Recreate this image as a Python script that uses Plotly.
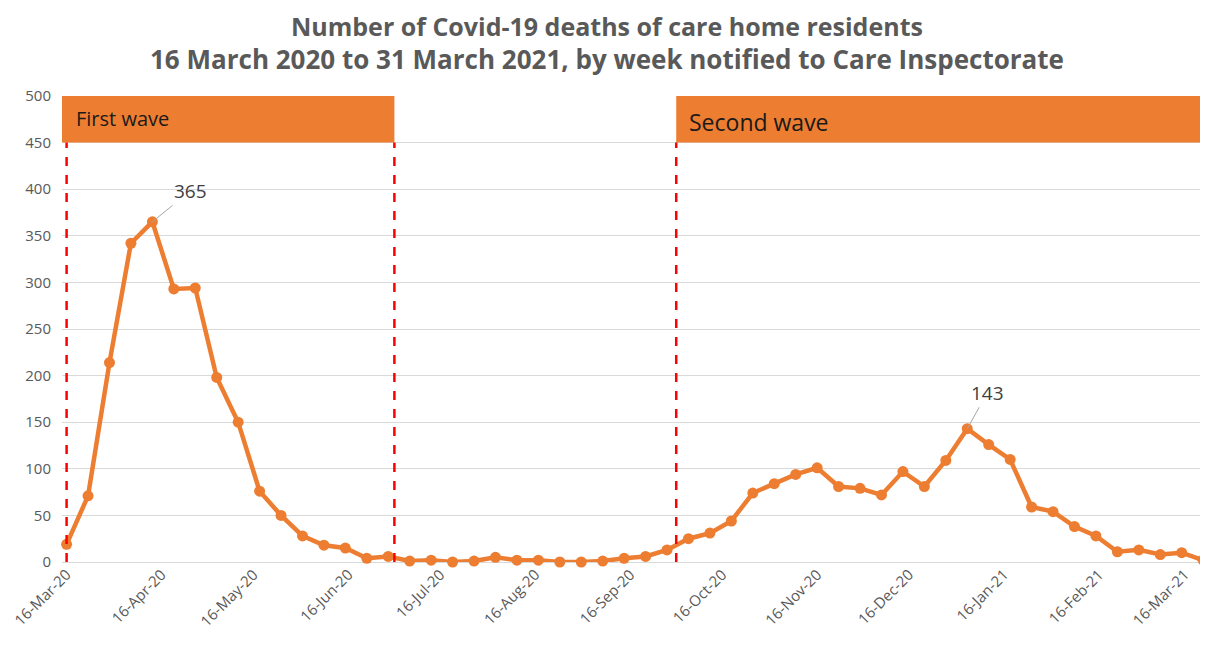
import plotly.graph_objects as go

# ───────────────────────── DATA ─────────────────────────

week_dates = [
    "2020-03-16", "2020-03-23", "2020-03-30", "2020-04-06", "2020-04-13", "2020-04-20",
    "2020-04-27", "2020-05-04", "2020-05-11", "2020-05-18", "2020-05-25", "2020-06-01",
    "2020-06-08", "2020-06-15", "2020-06-22", "2020-06-29", "2020-07-06", "2020-07-13",
    "2020-07-20", "2020-07-27", "2020-08-03", "2020-08-10", "2020-08-17", "2020-08-24",
    "2020-08-31", "2020-09-07", "2020-09-14", "2020-09-21", "2020-09-28", "2020-10-05",
    "2020-10-12", "2020-10-19", "2020-10-26", "2020-11-02", "2020-11-09", "2020-11-16",
    "2020-11-23", "2020-11-30", "2020-12-07", "2020-12-14", "2020-12-21", "2020-12-28",
    "2021-01-04", "2021-01-11", "2021-01-18", "2021-01-25", "2021-02-01", "2021-02-08",
    "2021-02-15", "2021-02-22", "2021-03-01", "2021-03-08", "2021-03-15", "2021-03-22",
]

deaths = [
    19, 71, 214, 342, 365, 293, 294, 198, 150, 76, 50, 28, 18, 15, 4, 6,
    1, 2, 0, 1, 5, 2, 2, 0, 0, 1, 4, 6, 13, 25,
    31, 44, 74, 84, 94, 101, 81, 79, 72, 97, 81, 109, 143, 126, 110,
    59, 54, 38, 28, 11, 13, 8, 10, 2,
]

tick_dates = [
    "2020-03-16", "2020-04-16", "2020-05-16", "2020-06-16", "2020-07-16", "2020-08-16",
    "2020-09-16", "2020-10-16", "2020-11-16", "2020-12-16", "2021-01-16", "2021-02-16",
    "2021-03-16",
]
tick_labels = [
    "16-Mar-20", "16-Apr-20", "16-May-20", "16-Jun-20", "16-Jul-20", "16-Aug-20",
    "16-Sep-20", "16-Oct-20", "16-Nov-20", "16-Dec-20", "16-Jan-21", "16-Feb-21",
    "16-Mar-21",
]

title_lines = [
    "Number of Covid-19 deaths of care home residents",
    "16 March 2020 to 31 March 2021, by week notified to Care Inspectorate",
]
wave_names = ["First wave", "Second wave"]
wave_bounds = ["2020-07-01", "2020-10-01"]
divider_dates = ["2020-03-16", "2020-07-01", "2020-10-01", "2021-03-22 12:00"]
peak_idx = [4, 42]

# ───────────────────────── STYLE ─────────────────────────

ORANGE = "#ED7D31"
GREY_TXT = "#595959"
FONT = "Open Sans"
X_START = "2020-03-14 12:00"
X_END = "2021-03-23 14:00"

# ───────────────────────── CHART ─────────────────────────

fig = go.Figure()

fig.add_trace(go.Scatter(
    x=week_dates,
    y=deaths,
    mode="lines+markers",
    line=dict(color=ORANGE, width=4.5),
    marker=dict(color=ORANGE, size=11),
    showlegend=False,
    cliponaxis=False,
    hoverinfo="x+y"
))

shapes = []

# wave header boxes
shapes.append(dict(type="rect", xref="x", yref="y", x0=X_START, x1=wave_bounds[0],
                   y0=450, y1=500, fillcolor=ORANGE, line=dict(width=0), layer="above"))
shapes.append(dict(type="rect", xref="x", yref="y", x0=wave_bounds[1], x1=X_END,
                   y0=450, y1=500, fillcolor=ORANGE, line=dict(width=0), layer="above"))

# red dashed dividers
for d in divider_dates:
    shapes.append(dict(type="line", xref="x", yref="y", x0=d, x1=d, y0=0, y1=450,
                       line=dict(color="#FF0000", width=2.5, dash="dash"), layer="above"))

title_html = "<b>{}</b><br><b><span style='font-size:26px'>{}</span></b>".format(*title_lines)

annotations = [
    dict(xref="paper", yref="paper", x=0.4756, y=554 / 466, yanchor="top", showarrow=False,
         borderpad=0, text=title_html,
         font=dict(family=FONT, size=25, color=GREY_TXT)),
    dict(xref="x", yref="y", x=X_START, y=476, xanchor="left", yanchor="middle", xshift=12,
         showarrow=False, text=wave_names[0], font=dict(family=FONT, size=20, color="#1a1a1a")),
    dict(xref="x", yref="y", x=wave_bounds[1], y=472, xanchor="left", yanchor="middle", xshift=11,
         showarrow=False, text=wave_names[1], font=dict(family=FONT, size=23, color="#1a1a1a")),
]

for i in peak_idx:
    annotations.append(dict(
        x=week_dates[i], y=deaths[i], text=str(deaths[i]),
        showarrow=True, arrowhead=0, arrowwidth=1, arrowcolor="#A6A6A6",
        ax=38 if i == peak_idx[0] else 20, ay=-31 if i == peak_idx[0] else -36,
        standoff=0, font=dict(family=FONT, size=19, color="#404040")
    ))

# the page body adds an 8px margin, so the figure is 8px smaller each way
fig.update_layout(
    width=1200,
    height=653,
    paper_bgcolor="white",
    plot_bgcolor="white",
    margin=dict(l=54, r=0, t=88, b=99, autoexpand=False),
    font=dict(family=FONT, color=GREY_TXT),
    shapes=shapes,
    annotations=annotations,
    xaxis=dict(
        type="date",
        range=[X_START, X_END],
        tickvals=tick_dates,
        ticktext=tick_labels,
        tickangle=-45,
        tickfont=dict(family=FONT, size=15, color=GREY_TXT),
        showgrid=False,
        showline=False,
        zeroline=False,
        ticks="",
        automargin=False,
    ),
    yaxis=dict(
        range=[0, 500],
        tick0=0,
        dtick=50,
        gridcolor="#D9D9D9",
        gridwidth=1,
        zeroline=True,
        zerolinecolor="#D9D9D9",
        zerolinewidth=1,
        tickfont=dict(family=FONT, size=15, color=GREY_TXT),
        ticklabelstandoff=10,
        automargin=False,
    ),
)

fig.write_html("out.html")
